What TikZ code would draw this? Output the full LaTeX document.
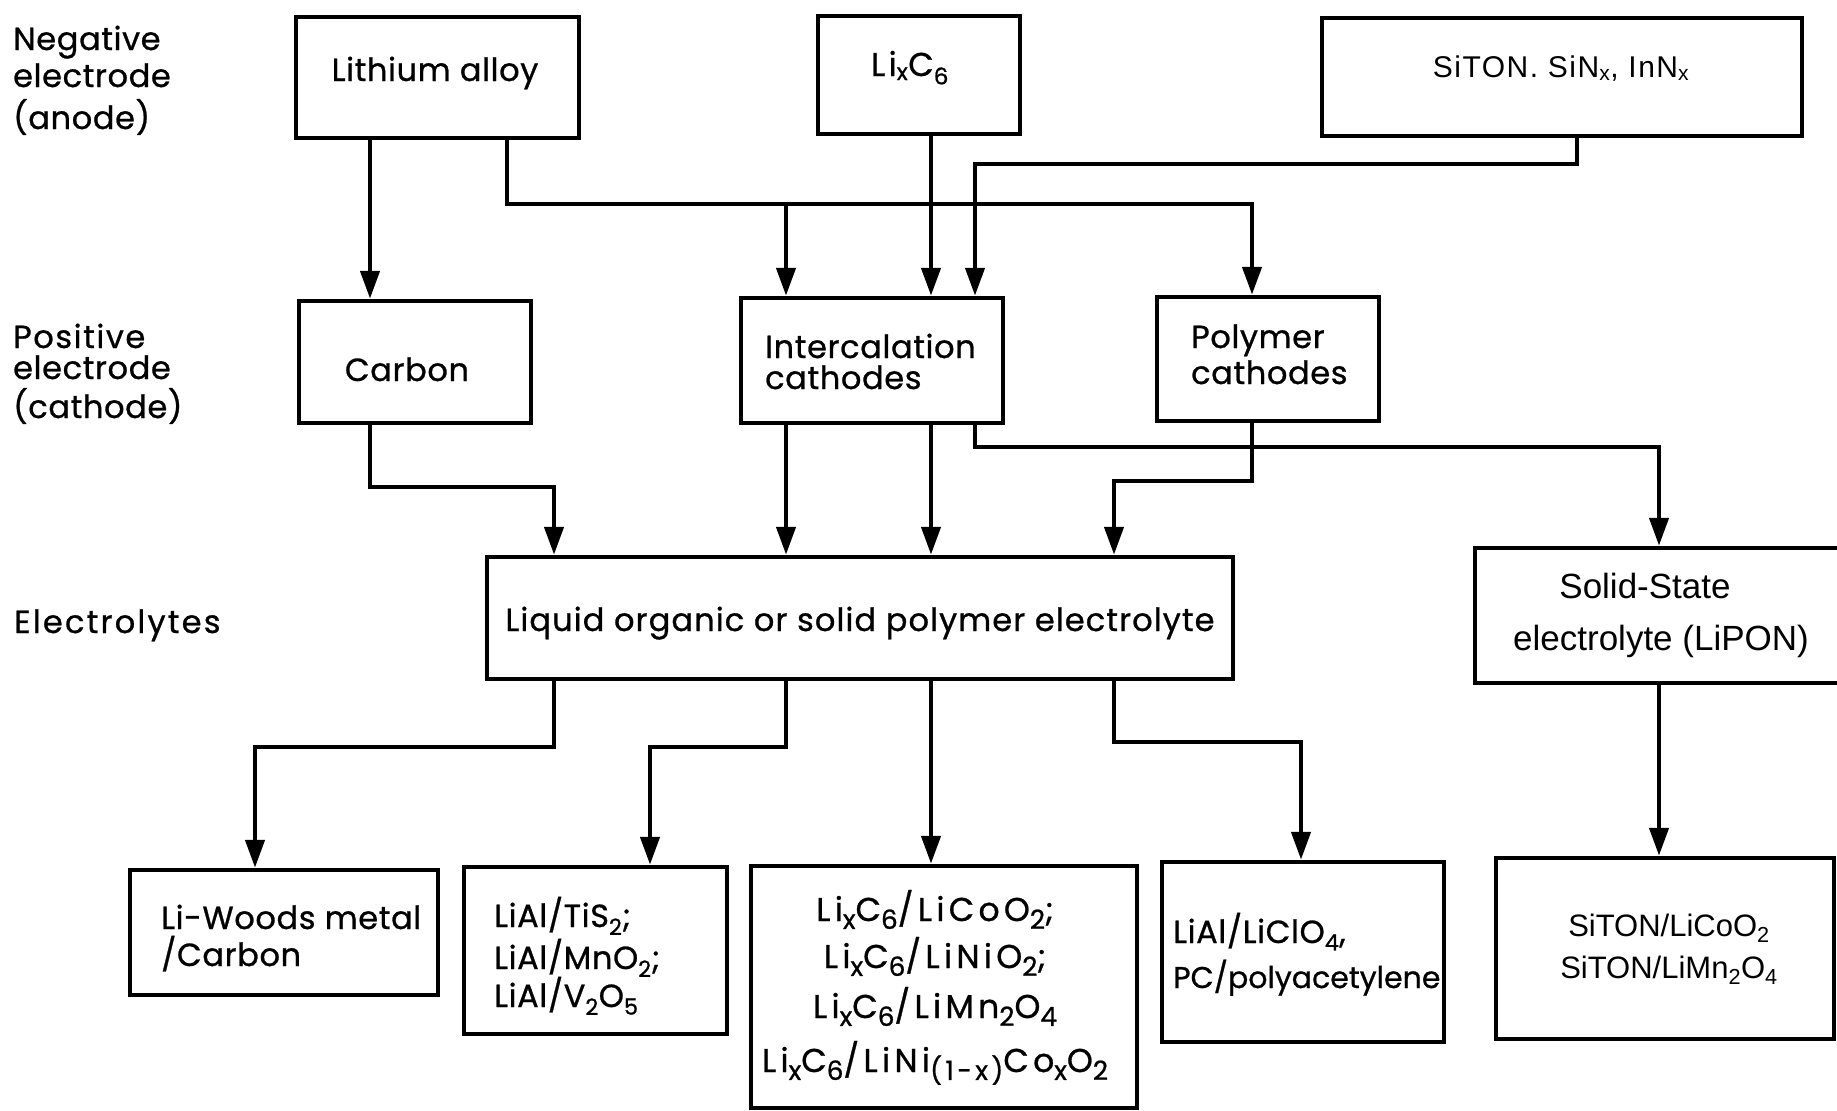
\documentclass[tikz,border=0pt]{standalone}
\usepackage{fontspec}
\setmainfont{Poppins}[FakeBold=0.8]
\newfontfamily\arialf{Liberation Sans}
\usetikzlibrary{arrows.meta}
\newcommand{\sbs}[1]{\raisebox{-0.24em}{\scalebox{0.8}{#1}}}
\begin{document}
\begin{tikzpicture}[x=1pt,y=-1pt,
  bx/.style={draw, line width=4.5pt, inner sep=0pt, fill=none},
  ln/.style={line width=4.5pt, line join=miter},
  arr/.style={ln, -{Triangle[width=19pt,length=28pt]}},
  lt/.style={font=\fontsize{32}{38}\selectfont\addfontfeatures{LetterSpace=2}, inner sep=0pt, anchor=base west},
  ct/.style={font=\fontsize{32}{38}\selectfont\addfontfeatures{LetterSpace=2}, inner sep=0pt, anchor=base},
  wide/.style={font=\fontsize{33}{38}\selectfont\addfontfeatures{LetterSpace=13}, inner sep=0pt, anchor=base},
  aft/.style={font=\arialf\fontsize{31}{36}\selectfont, inner sep=0pt, anchor=base},
]
\useasboundingbox (0,0) rectangle (1837,1111);
\fill[white] (0,0) rectangle (1837,1111);

% boxes
\node[bx, minimum width=283pt, minimum height=121pt] (lith) at (437.5,77.5) {};
\node[bx, minimum width=202pt, minimum height=118pt] (lixc) at (919,75) {};
\node[bx, minimum width=480pt, minimum height=118pt] (siton) at (1562,77) {};
\node[bx, minimum width=232pt, minimum height=122pt] (carbon) at (415,362) {};
\node[bx, minimum width=262pt, minimum height=125pt] (inter) at (872,360.5) {};
\node[bx, minimum width=222pt, minimum height=124pt] (poly) at (1268,359) {};
\node[bx, minimum width=746pt, minimum height=122pt] (liq) at (860,618) {};
\node[bx, minimum width=375pt, minimum height=135pt] (solid) at (1662.5,615.5) {};
\node[bx, minimum width=308pt, minimum height=125pt] (woods) at (284,932.5) {};
\node[bx, minimum width=263pt, minimum height=167pt] (lial) at (595.5,950.5) {};
\node[bx, minimum width=386pt, minimum height=242pt] (big) at (944,987) {};
\node[bx, minimum width=282pt, minimum height=180pt] (clo) at (1303,952) {};
\node[bx, minimum width=338pt, minimum height=181pt] (sit2) at (1665,948.5) {};

% texts
\node[lt] (neg1) at (13,50) {Negative};
\node[lt] (neg2) at (13,87) {electrode};
\node[lt] (neg3) at (13,129) {(anode)};
\node[lt, font=\fontsize{32}{38}\selectfont\addfontfeatures{LetterSpace=5}] (pos1) at (13,348) {Positive};
\node[lt] (pos2) at (13,379) {electrode};
\node[lt] (pos3) at (13,418) {(cathode)};
\node[lt, font=\fontsize{32}{38}\selectfont\addfontfeatures{LetterSpace=7}] (ele) at (14,633) {Electrolytes};

\node[ct] (tlith) at (435,81) {Lithium alloy};
\node[ct, font=\fontsize{33}{38}\selectfont\addfontfeatures{LetterSpace=10}] (tlixc) at (910,76) {Li\textsubscript{x}C\textsubscript{6}};
\node[aft, font=\arialf\fontsize{30}{36}\selectfont\addfontfeatures{LetterSpace=5}] (tsiton) at (1561,77) {SiTON. SiN\textsubscript{x}, InN\textsubscript{x}};
\node[ct] (tcarbon) at (407,381) {Carbon};
\node[lt] (tint1) at (765,358) {Intercalation};
\node[lt] (tint2) at (765,389) {cathodes};
\node[lt] (tpol1) at (1191,348) {Polymer};
\node[lt] (tpol2) at (1191,384) {cathodes};
\node[ct, font=\fontsize{32}{38}\selectfont\addfontfeatures{LetterSpace=3.5}] (tliq) at (860,631) {Liquid organic or solid polymer electrolyte};
\node[aft, font=\arialf\fontsize{35}{40}\selectfont] (tsol1) at (1645,598) {Solid-State};
\node[aft, font=\arialf\fontsize{35}{40}\selectfont] (tsol2) at (1661,650) {electrolyte (LiPON)};
\node[lt] (twd1) at (161,929) {Li-Woods metal};
\node[lt] (twd2) at (161,966) {/Carbon};
\node[lt] (tla1) at (494,927) {LiAl/TiS\textsubscript{2};};
\node[lt] (tla2) at (494,969) {LiAl/MnO\textsubscript{2};};
\node[lt] (tla3) at (494,1007) {LiAl/V\textsubscript{2}O\textsubscript{5}};
\node[wide] (tbg1) at (935,921) {Li\sbs{x}C\sbs{6}/LiCoO\sbs{2};};
\node[wide] (tbg2) at (935,968) {Li\sbs{x}C\sbs{6}/LiNiO\sbs{2};};
\node[wide] (tbg3) at (935,1018) {Li\sbs{x}C\sbs{6}/LiMn\sbs{2}O\sbs{4}};
\node[wide] (tbg4) at (935,1072) {Li\sbs{x}C\sbs{6}/LiNi\sbs{(1-x)}Co\sbs{x}O\sbs{2}};
\node[lt] (tcl1) at (1173,943) {LiAl/LiClO\textsubscript{4},};
\node[lt, font=\fontsize{30}{36}\selectfont] (tcl2) at (1173,988) {PC/polyacetylene};
\node[aft] (tst1) at (1669,936) {SiTON/LiCoO\textsubscript{2}};
\node[aft] (tst2) at (1669,978) {SiTON/LiMn\textsubscript{2}O\textsubscript{4}};

% x positions and levels
\coordinate (xa) at (370,0);
\coordinate (xb) at (507,0);
\coordinate (xc) at (786,0);
\coordinate (xd) at (931,0);
\coordinate (xe) at (975,0);
\coordinate (xs) at (1577,0);
\coordinate (xp) at (1252,0);
\coordinate (xf) at (554,0);
\coordinate (xg) at (1659,0);
\coordinate (xh) at (1114,0);
\coordinate (xi) at (255,0);
\coordinate (xj) at (650,0);
\coordinate (xk) at (1301,0);
\coordinate (hb) at (0,204);
\coordinate (hs) at (0,164);
\coordinate (hc) at (0,487);
\coordinate (hi) at (0,447);
\coordinate (hp) at (0,481);
\coordinate (hl) at (0,747);
\coordinate (hr) at (0,742);

% connectors
\draw[arr] (lith.south -| xa) -- (carbon.north -| xa);
\draw[arr] (lith.south -| xb) -- (xb |- hb) -- (xp |- hb) -- (poly.north -| xp);
\draw[arr] (xc |- hb) -- (inter.north -| xc);
\draw[arr] (lixc.south -| xd) -- (inter.north -| xd);
\draw[arr] (siton.south -| xs) -- (xs |- hs) -- (xe |- hs) -- (inter.north -| xe);
\draw[arr] (carbon.south -| xa) -- (xa |- hc) -- (xf |- hc) -- (liq.north -| xf);
\draw[arr] (inter.south -| xc) -- (liq.north -| xc);
\draw[arr] (inter.south -| xd) -- (liq.north -| xd);
\draw[arr] (inter.south -| xe) -- (xe |- hi) -- (xg |- hi) -- (solid.north -| xg);
\draw[arr] (poly.south -| xp) -- (xp |- hp) -- (xh |- hp) -- (liq.north -| xh);
\draw[arr] (liq.south -| xf) -- (xf |- hl) -- (xi |- hl) -- (woods.north -| xi);
\draw[arr] (liq.south -| xc) -- (xc |- hl) -- (xj |- hl) -- (lial.north -| xj);
\draw[arr] (liq.south -| xd) -- (big.north -| xd);
\draw[arr] (liq.south -| xh) -- (xh |- hr) -- (xk |- hr) -- (clo.north -| xk);
\draw[arr] (solid.south -| xg) -- (sit2.north -| xg);
\end{tikzpicture}
\end{document}
